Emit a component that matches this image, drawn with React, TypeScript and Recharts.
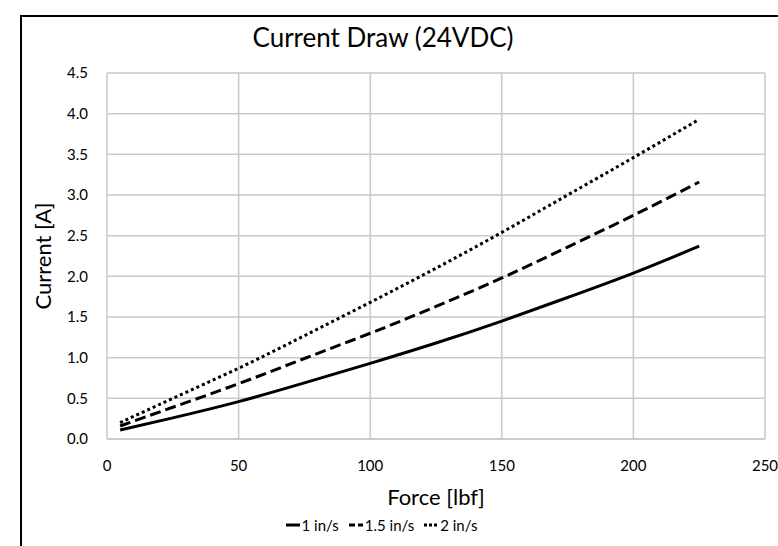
import { LineChart, Line, XAxis, YAxis, CartesianGrid, Legend } from 'recharts';

const forceLbf = [5, 25, 50, 75, 100, 125, 150, 175, 200, 225];
const current1 = [0.11, 0.26, 0.46, 0.69, 0.93, 1.18, 1.45, 1.74, 2.04, 2.37];
const current15 = [0.16, 0.39, 0.68, 0.99, 1.3, 1.63, 1.98, 2.36, 2.75, 3.16];
const current2 = [0.2, 0.5, 0.87, 1.27, 1.68, 2.1, 2.54, 3.0, 3.46, 3.93];
const xTicks = [0, 50, 100, 150, 200, 250];
const yTicks = [0, 0.5, 1, 1.5, 2, 2.5, 3, 3.5, 4, 4.5];

const data = forceLbf.map((f, i) => ({
  force: f,
  s1: current1[i],
  s15: current15[i],
  s2: current2[i],
}));

const FONT = 'Lato, "Open Sans", sans-serif';
const GRID = '#c9c9c9';

const series = [
  { key: 's1', name: '1 in/s', dash: undefined as string | undefined, icon: undefined as string | undefined },
  { key: 's15', name: '1.5 in/s', dash: '11 5', icon: '6 3' },
  { key: 's2', name: '2 in/s', dash: '3 3', icon: '3 2' },
];

function LegendBox() {
  return (
    <div style={{ display: 'flex', justifyContent: 'center', gap: 9, fontFamily: FONT, fontSize: 15, color: '#000' }}>
      {series.map((s) => (
        <span key={s.key} style={{ display: 'inline-flex', alignItems: 'center' }}>
          <svg width={16} height={10} style={{ marginRight: 1 }}>
            <line x1={1} y1={5} x2={15} y2={5} stroke="#000" strokeWidth={3} strokeDasharray={s.icon} />
          </svg>
          {s.name}
        </span>
      ))}
    </div>
  );
}

export default function App() {
  return (
    <div style={{ position: 'fixed', left: 0, top: 0, width: 778, height: 546, overflow: 'hidden', background: '#fff' }}>
      <div style={{ position: 'absolute', left: 20, top: 15, width: 900, height: 700, border: '2px solid #000' }} />
      <div style={{ position: 'absolute', left: 383, top: 21, transform: 'translateX(-50%)', fontFamily: FONT, fontSize: 26, color: '#000', whiteSpace: 'nowrap' }}>
        Current Draw (24VDC)
      </div>
      <div style={{ position: 'absolute', left: 436, top: 483, transform: 'translateX(-50%)', fontFamily: FONT, fontSize: 22, color: '#000', whiteSpace: 'nowrap' }}>
        Force [lbf]
      </div>
      <div style={{ position: 'absolute', left: 42, top: 256, transform: 'translate(-50%, -50%) rotate(-90deg)', fontFamily: FONT, fontSize: 22, color: '#000', whiteSpace: 'nowrap' }}>
        Current [A]
      </div>
      <div style={{ position: 'absolute', left: 0, top: 0 }}>
        <LineChart width={778} height={546} data={data} margin={{ top: 73, right: 13, bottom: 77, left: 0 }}>
          <CartesianGrid stroke={GRID} strokeWidth={1.5} />
          <XAxis
            dataKey="force"
            type="number"
            domain={[0, 250]}
            ticks={xTicks}
            tickLine={false}
            tickSize={0}
            tickMargin={21}
            axisLine={{ stroke: GRID, strokeWidth: 1.5 }}
            tick={{ fill: '#000', fontSize: 15, fontFamily: FONT }}
            height={30}
          />
          <YAxis
            type="number"
            domain={[0, 4.5]}
            ticks={yTicks}
            tickFormatter={(v: number) => v.toFixed(1)}
            tickLine={false}
            tickSize={0}
            tickMargin={19}
            axisLine={false}
            tick={{ fill: '#000', fontSize: 15, fontFamily: FONT }}
            width={107}
          />
          <Legend
            verticalAlign="middle"
            layout="horizontal"
            content={() => <LegendBox />}
            wrapperStyle={{ top: 516, left: -8, width: 778 }}
          />
          {series.map((s) => (
            <Line
              key={s.key}
              type="natural"
              dataKey={s.key}
              name={s.name}
              stroke="#000"
              strokeWidth={3}
              strokeDasharray={s.dash}
              dot={false}
              activeDot={false}
              isAnimationActive={false}
            />
          ))}
        </LineChart>
      </div>
    </div>
  );
}
